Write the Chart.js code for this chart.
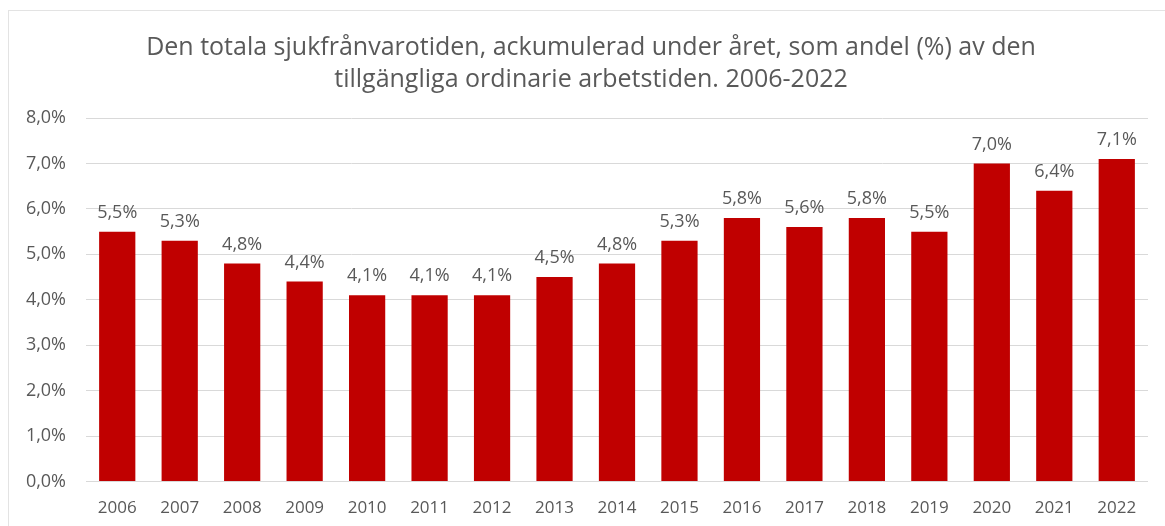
<!DOCTYPE html>
<html>
<head>
<meta charset="utf-8">
<script src="https://cdn.jsdelivr.net/npm/chart.js@4/dist/chart.umd.min.js"></script>
<style>
    body { margin: 0; background: #fff; }
    #wrap { position: relative; width: 1165px; height: 526px; overflow: hidden; }
    #frame { position: absolute; left: 8px; top: 10px; right: 0; bottom: 0; border-left: 1px solid #e3e3e3; border-top: 1px solid #e3e3e3; }
    canvas { position: absolute; left: 0; top: 0; }
    #title {
        position: absolute; left: 34px; top: 29px; width: 1114px;
        text-align: center; color: #595959;
        font: 25px/32px "Open Sans", sans-serif;
        z-index: 2;
    }
</style>
</head>
<body>
<div id="wrap">
    <div id="frame"></div>
    <canvas id="chart" width="1165" height="526"></canvas>
    <div id="title"></div>
</div>
<script>
const years = ['2006', '2007', '2008', '2009', '2010', '2011', '2012', '2013', '2014',
    '2015', '2016', '2017', '2018', '2019', '2020', '2021', '2022'];
const sickLeave = [5.5, 5.3, 4.8, 4.4, 4.1, 4.1, 4.1, 4.5, 4.8, 5.3, 5.8, 5.6, 5.8, 5.5, 7.0, 6.4, 7.1];
const titleLines = [
    'Den totala sjukfrånvarotiden, ackumulerad under året, som andel (%) av den',
    'tillgängliga ordinarie arbetstiden. 2006-2022'
];

const fmt = v => v.toFixed(1).replace('.', ',') + '%';
const textColor = '#595959';
const fontFamily = '"Open Sans", sans-serif';

document.getElementById('title').innerHTML = titleLines.join('<br>');

// etiketter ovanför staplarna
const barLabels = {
    id: 'barLabels',
    afterDatasetsDraw(chart) {
        const ctx = chart.ctx;
        const meta = chart.getDatasetMeta(0);
        ctx.save();
        ctx.fillStyle = textColor;
        ctx.font = '18px ' + fontFamily;
        ctx.textAlign = 'center';
        ctx.textBaseline = 'middle';
        meta.data.forEach((bar, i) => {
            ctx.fillText(fmt(sickLeave[i]), bar.x, bar.y - 19);
        });
        ctx.restore();
    }
};

new Chart(document.getElementById('chart'), {
    type: 'bar',
    data: {
        labels: years,
        datasets: [{
            data: sickLeave,
            backgroundColor: '#C00000',
            borderWidth: 0,
            barPercentage: 0.58,
            categoryPercentage: 1
        }]
    },
    options: {
        responsive: false,
        animation: false,
        layout: { padding: { left: 0, right: 17, top: 118, bottom: 0 } },
        plugins: {
            legend: { display: false },
            tooltip: { enabled: false },
            title: { display: false }
        },
        scales: {
            x: {
                grid: { display: false },
                border: { display: false },
                ticks: { color: textColor, font: { family: fontFamily, size: 17 }, padding: 8, maxRotation: 0 }
            },
            y: {
                min: 0,
                max: 8,
                afterFit(scale) { scale.width = 86; },
                grid: { color: '#d9d9d9', drawTicks: false },
                border: { display: false },
                ticks: {
                    stepSize: 1,
                    color: textColor,
                    font: { family: fontFamily, size: 18 },
                    padding: 20,
                    callback: v => fmt(v)
                }
            }
        }
    },
    plugins: [barLabels]
});
</script>
</body>
</html>
